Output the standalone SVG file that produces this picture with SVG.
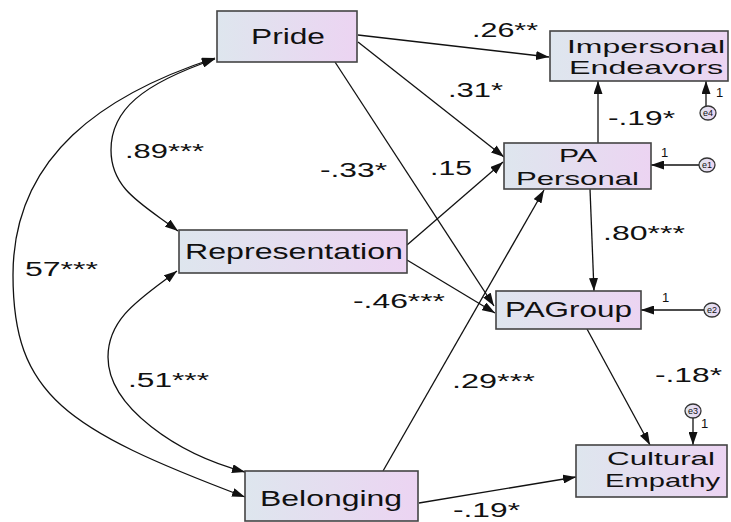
<svg xmlns="http://www.w3.org/2000/svg" width="731" height="522" viewBox="0 0 731 522">
<defs>
<linearGradient id="g" x1="0" y1="0" x2="1" y2="0">
<stop offset="0" stop-color="#dee6ee"/>
<stop offset="1" stop-color="#ecd4f2"/>
</linearGradient>
<marker id="ah" markerUnits="userSpaceOnUse" markerWidth="13" markerHeight="9" refX="13" refY="4.5" orient="auto-start-reverse">
<path d="M0,0 L13,4.5 L0,9 z" fill="#111"/>
</marker>
<style>
.box{fill:url(#g);stroke:#444;stroke-width:1.6}
.err{fill:url(#g);stroke:#333;stroke-width:1.3}
.t{font-family:"Liberation Sans",Arial,sans-serif;font-size:22px;fill:#111}
.t2{font-family:"Liberation Sans",Arial,sans-serif;font-size:19px;fill:#111}
.l{font-family:"Liberation Sans",Arial,sans-serif;font-size:20px;fill:#111}
.e{font-family:"Liberation Sans",Arial,sans-serif;font-size:9px;fill:#111}
.one{font-family:"Liberation Sans",Arial,sans-serif;font-size:13px;fill:#111}
.c{fill:none;stroke:#111;stroke-width:1.3}
</style>
</defs>
<g id="connectors">
<line class="c" x1="358" y1="35" x2="549" y2="57" marker-end="url(#ah)"/>
<line class="c" x1="358" y1="42" x2="504" y2="157" marker-end="url(#ah)"/>
<line class="c" x1="335" y1="62" x2="494" y2="306" marker-end="url(#ah)"/>
<line class="c" x1="407" y1="245" x2="503" y2="162" marker-end="url(#ah)"/>
<line class="c" x1="407" y1="260" x2="495" y2="313" marker-end="url(#ah)"/>
<line class="c" x1="383" y1="471" x2="544" y2="190" marker-end="url(#ah)"/>
<line class="c" x1="419" y1="503" x2="576" y2="477" marker-end="url(#ah)"/>
<line class="c" x1="598" y1="143" x2="598" y2="81" marker-end="url(#ah)"/>
<line class="c" x1="590" y1="189" x2="594" y2="291" marker-end="url(#ah)"/>
<line class="c" x1="587" y1="329" x2="650" y2="445" marker-end="url(#ah)"/>
<line class="c" x1="706" y1="106" x2="706" y2="81" marker-end="url(#ah)"/>
<line class="c" x1="699" y1="165" x2="651" y2="165" marker-end="url(#ah)"/>
<line class="c" x1="704" y1="310" x2="641" y2="310" marker-end="url(#ah)"/>
<line class="c" x1="693" y1="418" x2="693" y2="445" marker-end="url(#ah)"/>
<path class="c" d="M215,59 C142,84 111,110 111,150 C111,190 144,205 178,231" marker-start="url(#ah)" marker-end="url(#ah)"/>
<path class="c" d="M215,58 C105,94 13,155 13,275 C13,395 65,429 245,497" marker-start="url(#ah)" marker-end="url(#ah)"/>
<path class="c" d="M177,271 C143,297 108,317 108,357 C108,407 177,454 245,472" marker-start="url(#ah)" marker-end="url(#ah)"/>
</g>
<g id="labels">
<text class="l" x="472" y="37" textLength="66" lengthAdjust="spacingAndGlyphs">.26**</text>
<text class="l" x="448" y="97" textLength="55" lengthAdjust="spacingAndGlyphs">.31*</text>
<text class="l" x="320" y="177" textLength="67" lengthAdjust="spacingAndGlyphs">-.33*</text>
<text class="l" x="430" y="175" textLength="42" lengthAdjust="spacingAndGlyphs">.15</text>
<text class="l" x="353" y="308" textLength="92" lengthAdjust="spacingAndGlyphs">-.46***</text>
<text class="l" x="125" y="158" textLength="79" lengthAdjust="spacingAndGlyphs">.89***</text>
<text class="l" x="25" y="276" textLength="73" lengthAdjust="spacingAndGlyphs">57***</text>
<text class="l" x="128" y="387" textLength="81" lengthAdjust="spacingAndGlyphs">.51***</text>
<text class="l" x="452" y="388" textLength="83" lengthAdjust="spacingAndGlyphs">.29***</text>
<text class="l" x="603" y="240" textLength="82" lengthAdjust="spacingAndGlyphs">.80***</text>
<text class="l" x="608" y="125" textLength="67" lengthAdjust="spacingAndGlyphs">-.19*</text>
<text class="l" x="655" y="382" textLength="67" lengthAdjust="spacingAndGlyphs">-.18*</text>
<text class="l" x="453" y="517" textLength="67" lengthAdjust="spacingAndGlyphs">-.19*</text>
<text class="one" x="716" y="97">1</text>
<text class="one" x="661" y="157">1</text>
<text class="one" x="662" y="302">1</text>
<text class="one" x="701" y="428">1</text>
</g>
<g id="Pride">
<rect class="box" x="217" y="11" width="140" height="51"/>
<text class="t" x="251" y="44" textLength="74" lengthAdjust="spacingAndGlyphs">Pride</text>
</g>
<g id="Impersonal">
<rect class="box" x="550" y="31" width="178" height="50"/>
<text class="t2" x="567" y="53" textLength="158" lengthAdjust="spacingAndGlyphs">Impersonal</text>
<text class="t2" x="569" y="74" textLength="154" lengthAdjust="spacingAndGlyphs">Endeavors</text>
</g>
<g id="PAPersonal">
<rect class="box" x="504" y="143" width="147" height="46"/>
<text class="t2" x="559" y="162" textLength="38" lengthAdjust="spacingAndGlyphs">PA</text>
<text class="t2" x="516" y="185" textLength="123" lengthAdjust="spacingAndGlyphs">Personal</text>
</g>
<g id="Representation">
<rect class="box" x="179" y="230" width="228" height="43"/>
<text class="t" x="185" y="259" textLength="218" lengthAdjust="spacingAndGlyphs">Representation</text>
</g>
<g id="PAGroup">
<rect class="box" x="496" y="291" width="145" height="38"/>
<text class="t" x="505" y="317" textLength="127" lengthAdjust="spacingAndGlyphs">PAGroup</text>
</g>
<g id="CulturalEmpathy">
<rect class="box" x="576" y="445" width="151" height="52"/>
<text class="t2" x="607" y="465" textLength="108" lengthAdjust="spacingAndGlyphs">Cultural</text>
<text class="t2" x="605" y="487" textLength="115" lengthAdjust="spacingAndGlyphs">Empathy</text>
</g>
<g id="Belonging">
<rect class="box" x="245" y="471" width="173" height="50"/>
<text class="t" x="260" y="506" textLength="142" lengthAdjust="spacingAndGlyphs">Belonging</text>
</g>
<g id="e4">
<ellipse class="err" cx="708" cy="113" rx="8" ry="7"/>
<text class="e" x="708" y="116" text-anchor="middle">e4</text>
</g>
<g id="e1">
<ellipse class="err" cx="707" cy="165" rx="8" ry="7"/>
<text class="e" x="707" y="168" text-anchor="middle">e1</text>
</g>
<g id="e2">
<ellipse class="err" cx="712" cy="310" rx="8" ry="7"/>
<text class="e" x="712" y="313" text-anchor="middle">e2</text>
</g>
<g id="e3">
<ellipse class="err" cx="693" cy="411" rx="8" ry="7"/>
<text class="e" x="693" y="414" text-anchor="middle">e3</text>
</g>
</svg>
